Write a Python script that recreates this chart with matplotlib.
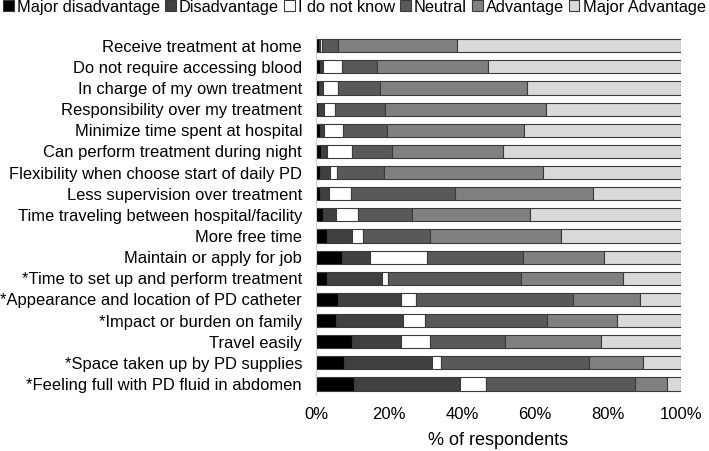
import matplotlib
matplotlib.use("Agg")
import matplotlib.pyplot as plt
from matplotlib.patches import Patch
import numpy as np

plt.rcParams['font.family'] = ['Liberation Sans', 'DejaVu Sans']

categories = [
    "Receive treatment at home",
    "Do not require accessing blood",
    "In charge of my own treatment",
    "Responsibility over my treatment",
    "Minimize time spent at hospital",
    "Can perform treatment during night",
    "Flexibility when choose start of daily PD",
    "Less supervision over treatment",
    "Time traveling between hospital/facility",
    "More free time",
    "Maintain or apply for job",
    "*Time to set up and perform treatment",
    "*Appearance and location of PD catheter",
    "*Impact or burden on family",
    "Travel easily",
    "*Space taken up by PD supplies",
    "*Feeling full with PD fluid in abdomen",
]

series_names = ["Major disadvantage", "Disadvantage", "I do not know",
                "Neutral", "Advantage", "Major Advantage"]

major_disadvantage = [0.7, 1.1, 0.8, 0.5, 1.1, 1.4, 1.1, 1.1, 1.8, 3.1, 7.1, 2.9, 6.1, 5.4, 9.8, 7.8, 10.3]
disadvantage       = [0.4, 0.7, 1.2, 1.7, 1.1, 1.5, 2.6, 2.4, 3.6, 6.8, 7.7, 15.1, 17.2, 18.3, 13.4, 24.1, 29.2]
do_not_know        = [0.5, 5.2, 4.1, 3.0, 5.3, 7.0, 2.1, 6.2, 6.2, 3.1, 15.5, 1.8, 4.2, 6.2, 8.0, 2.3, 7.0]
neutral            = [4.5, 9.6, 11.3, 13.6, 12.0, 10.8, 12.7, 28.5, 14.7, 18.1, 26.5, 36.5, 43.0, 33.3, 20.7, 40.7, 40.9]
advantage          = [32.6, 30.4, 40.3, 44.1, 37.4, 30.6, 43.6, 37.8, 32.2, 35.9, 22.0, 27.7, 18.3, 19.4, 26.3, 14.8, 8.9]
major_advantage    = [61.3, 53.0, 42.3, 37.1, 43.1, 48.7, 37.9, 24.0, 41.5, 33.0, 21.2, 16.0, 11.2, 17.4, 21.8, 10.3, 3.7]

series = [major_disadvantage, disadvantage, do_not_know, neutral, advantage, major_advantage]
colors = ["#000000", "#404040", "#ffffff", "#595959", "#808080", "#d9d9d9"]

fig = plt.figure(figsize=(7.09, 4.51), dpi=100)
ax = fig.add_axes([316/709, 1 - 394.6/451, (681-316)/709, 359.4/451])

y = np.arange(len(categories))
left = np.zeros(len(categories))
for vals, c, name in zip(series, colors, series_names):
    vals = np.array(vals, dtype=float)
    ax.barh(y, vals, left=left, height=0.62, color=c, edgecolor="#3a3a3a",
            linewidth=0.8, label=name)
    left += vals

ax.set_ylim(len(categories) - 0.5, -0.5)
ax.set_xlim(0, 100)
ax.set_yticks(y)
ax.set_yticklabels(categories, fontsize=11.85)
ax.set_xticks([0, 20, 40, 60, 80, 100])
ax.set_xticklabels(["0%", "20%", "40%", "60%", "80%", "100%"], fontsize=12)
ax.tick_params(axis='both', length=0)
ax.tick_params(axis='x', pad=9)
ax.tick_params(axis='y', pad=10)
for s in ["top", "right", "bottom"]:
    ax.spines[s].set_visible(False)
ax.spines["left"].set_color("#d0d0d0")
ax.spines["left"].set_linewidth(0.8)
ax.set_xlabel("% of respondents", fontsize=13, labelpad=7)

handles = [Patch(facecolor=c, edgecolor="#3a3a3a", linewidth=0.8) for c in colors]
fig.legend(handles, series_names, loc="upper center", bbox_to_anchor=(0.5, 1.012),
           ncol=6, frameon=False, fontsize=11.8, handlelength=0.65, handleheight=0.65,
           handletextpad=0.2, columnspacing=0.3, borderaxespad=0.1, borderpad=0.2)

fig.savefig("out.png", dpi=100)
